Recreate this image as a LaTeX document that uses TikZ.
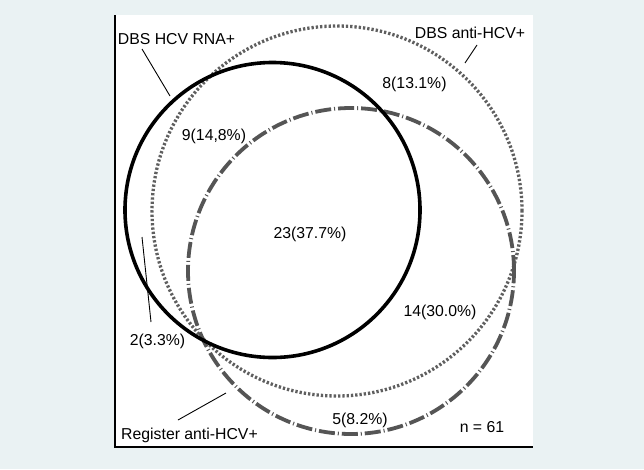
\documentclass[tikz,border=0pt]{standalone}
\usepackage{fontspec}
\setmainfont{Liberation Sans}
\definecolor{bgcol}{RGB}{234,242,243}
\definecolor{dotcol}{RGB}{95,95,95}
\definecolor{dashcol}{RGB}{85,85,85}
\begin{document}
\begin{tikzpicture}[x=1pt,y=-1pt,
  lbl/.style={anchor=base,inner sep=0pt,font=\fontsize{15.8pt}{18pt}\selectfont},
  leader/.style={black,line width=0.9pt},
  rnacircle/.style={black,line width=3.6pt},
  dbscircle/.style={dotcol,line width=3.3pt,dash pattern=on 2.3pt off 2pt},
  regcircle/.style={dashcol,line width=3.8pt,dash pattern=on 16pt off 3pt on 1pt off 3pt}]
\useasboundingbox (0,0) rectangle (644,469);
\fill[bgcol] (0,0) rectangle (644,469);
\fill[white] (115,15) rectangle (533,447);
\draw[black,line width=1.2pt] (115,15) -- (115,447) -- (533,447);
% circles
\draw[dbscircle] (337,211) circle[radius=185pt];
\draw[regcircle] (351,271) circle[radius=163pt];
\draw[rnacircle] (272.5,210) circle[radius=147.5pt];
% labels
\node[lbl] (rna) at (176.5,44) {DBS HCV RNA+};
\node[lbl] (dbs) at (470,38) {DBS anti-HCV+};
\node[lbl] (reg) at (189.5,439) {Register anti-HCV+};
\node[lbl] (a8) at (414.5,88) {8(13.1\%)};
\node[lbl] (a9) at (214,140) {9(14,8\%)};
\node[lbl] (a23) at (310,238) {23(37.7\%)};
\node[lbl] (a14) at (440,316) {14(30.0\%)};
\node[lbl] (a2) at (157.5,345) {2(3.3\%)};
\node[lbl] (a5) at (360,424) {5(8.2\%)};
\node[lbl] (n) at (482,432) {n = 61};
% leader lines
\coordinate (rnaA) at (142,49);  \coordinate (rnaB) at (170,96);
\coordinate (dbsA) at (477,45);  \coordinate (dbsB) at (465,63);
\coordinate (twoA) at (142,237); \coordinate (twoB) at (151,322);
\coordinate (regA) at (178,420); \coordinate (regB) at (226,393);
\draw[leader] (rnaA) -- (rnaB);
\draw[leader] (dbsA) -- (dbsB);
\draw[leader] (twoA) -- (twoB);
\draw[leader] (regA) -- (regB);
\end{tikzpicture}
\end{document}
